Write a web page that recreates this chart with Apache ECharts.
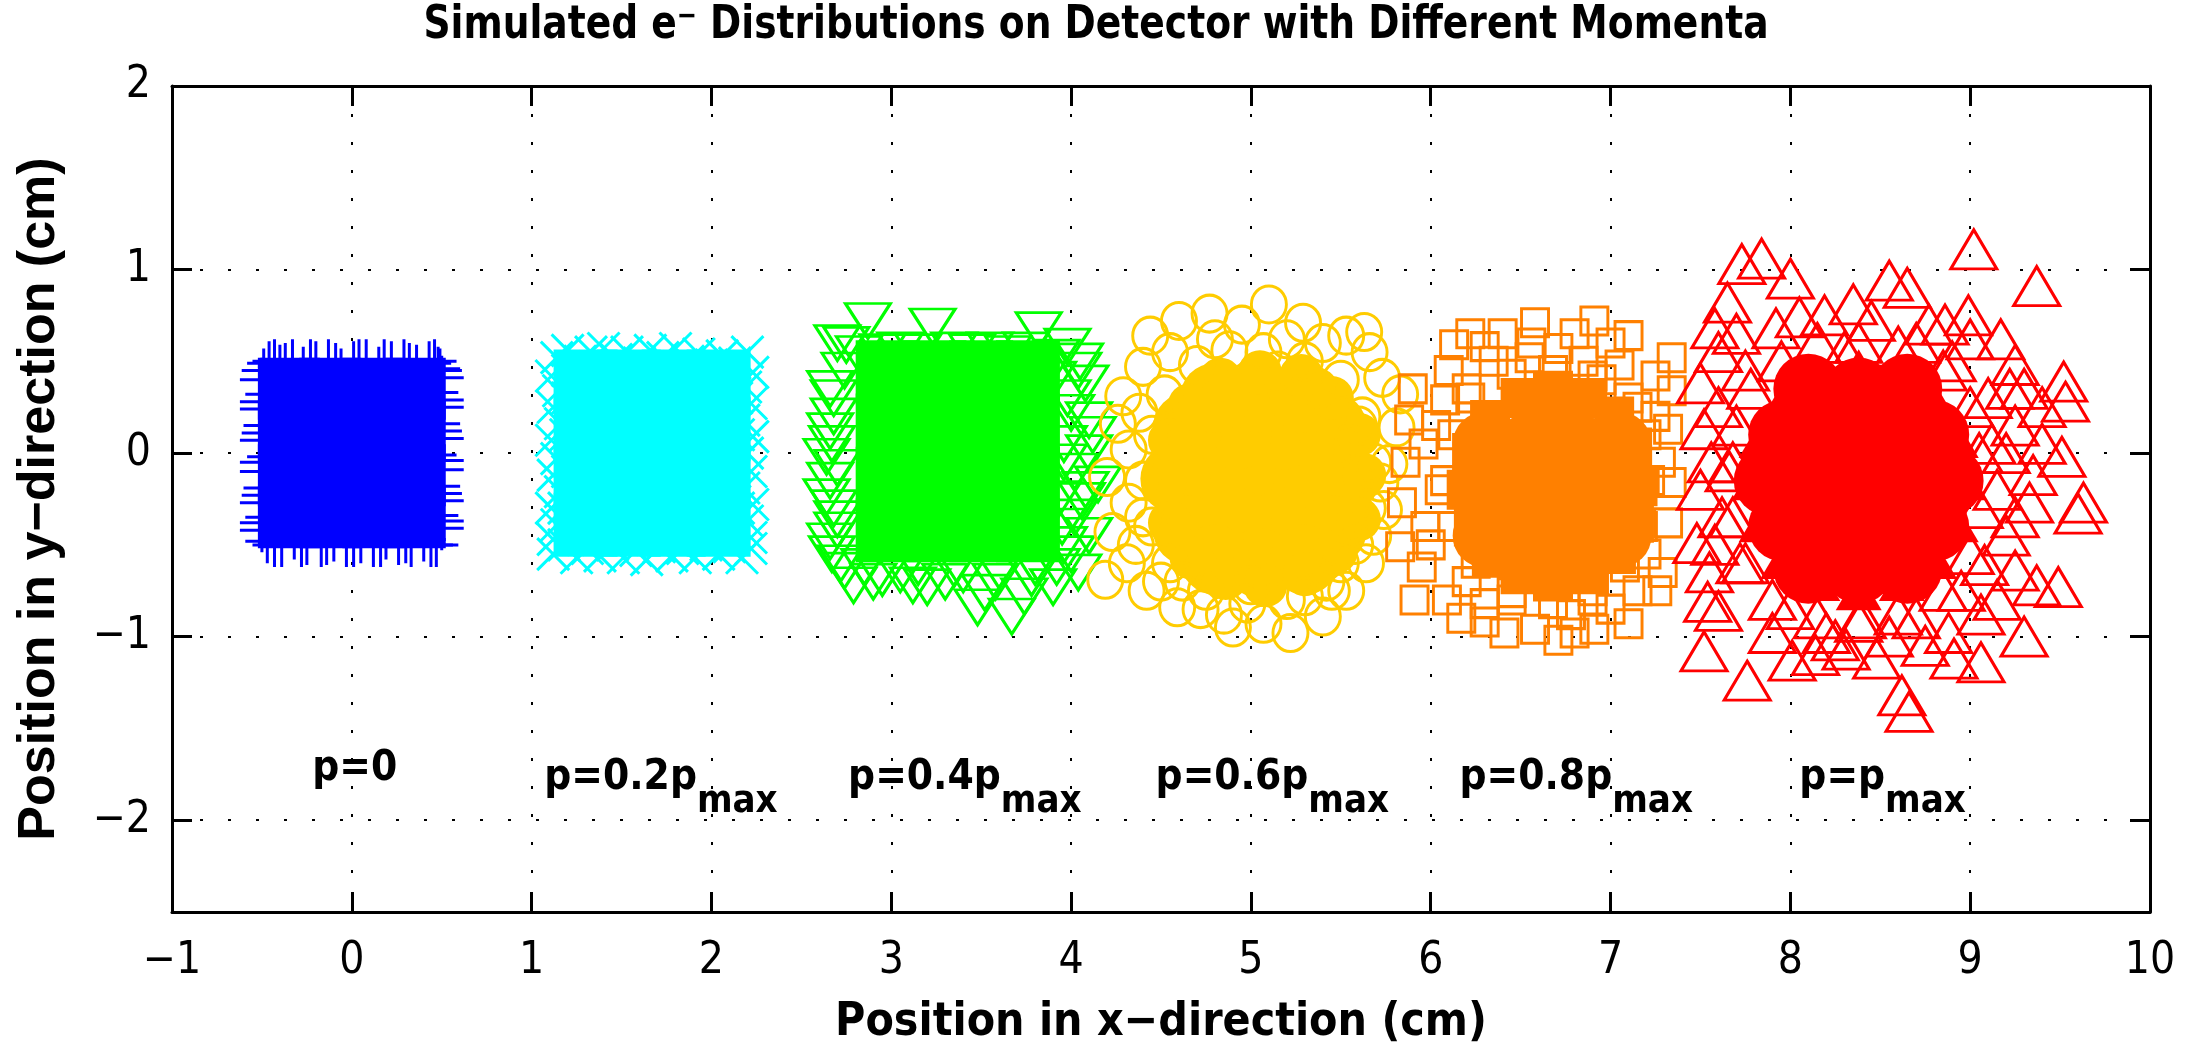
<!DOCTYPE html>
<html>
<head>
<meta charset="utf-8">
<script src="https://cdn.jsdelivr.net/npm/echarts@6/dist/echarts.min.js"></script>
<style>
  html, body { margin: 0; padding: 0; background: #fff; }
  #chart { width: 2193px; height: 1052px; }
</style>
</head>
<body>
<div id="chart"></div>
<script>
const NARROW = "'Liberation Sans Narrow', 'DejaVu Sans Condensed', sans-serif"
const WIDE = "'Liberation Sans', Arial, sans-serif"

// axis ticks
const yTicks = [-2, -1, 0, 1, 2]

// p = 0 : plus markers
const blueCore = [[-0.35,0.35],[-0.12,0.35],[0.12,0.35],[0.35,0.35],[-0.35,0.12],[-0.12,0.12],[0.12,0.12],[0.35,0.12],
  [-0.35,-0.12],[-0.12,-0.12],[0.12,-0.12],[0.35,-0.12],[-0.35,-0.35],[-0.12,-0.35],[0.12,-0.35],[0.35,-0.35]]
const blueEdge = [[-0.46,0.49],[-0.4,0.47],[-0.33,0.5],[-0.27,0.46],[-0.2,0.49],[-0.13,0.5],[-0.06,0.45],[0.01,0.49],
  [0.08,0.5],[0.15,0.46],[0.22,0.49],[0.29,0.5],[0.36,0.47],[0.43,0.49],[0.48,0.46],
  [-0.43,0.5],[-0.37,0.48],[-0.23,0.5],[-0.09,0.48],[0.04,0.5],[0.18,0.5],[0.32,0.48],[0.46,0.5],
  [-0.47,-0.48],[-0.39,-0.5],[-0.32,-0.46],[-0.25,-0.49],[-0.17,-0.5],[-0.1,-0.47],[-0.03,-0.5],[0.05,-0.48],
  [0.12,-0.5],[0.19,-0.46],[0.26,-0.49],[0.33,-0.5],[0.4,-0.47],[0.47,-0.5],
  [-0.43,-0.5],[-0.28,-0.5],[-0.14,-0.49],[0.01,-0.5],[0.16,-0.5],[0.3,-0.48],[0.44,-0.5],
  [-0.5,0.4],[-0.47,0.32],[-0.5,0.24],[-0.48,0.15],[-0.5,0.07],[-0.46,-0.02],[-0.5,-0.1],[-0.48,-0.19],[-0.5,-0.27],[-0.47,-0.35],[-0.5,-0.42],
  [-0.49,0.45],[-0.5,0.28],[-0.49,0.11],[-0.5,-0.05],[-0.49,-0.23],[-0.5,-0.38],
  [0.5,0.41],[0.47,0.33],[0.5,0.25],[0.48,0.16],[0.5,0.08],[0.46,-0.01],[0.5,-0.09],[0.48,-0.18],[0.5,-0.26],[0.47,-0.34],[0.5,-0.41],
  [0.49,0.45],[0.5,0.29],[0.49,0.12],[0.5,-0.04],[0.49,-0.22],[0.5,-0.37]]

// p = 0.2 pmax : x markers
const cyanCore = [[1.3,0.39],[1.54,0.39],[1.79,0.39],[2.04,0.39],[1.3,0.13],[1.54,0.13],[1.79,0.13],[2.04,0.13],
  [1.3,-0.13],[1.54,-0.13],[1.79,-0.13],[2.04,-0.13],[1.3,-0.39],[1.54,-0.39],[1.79,-0.39],[2.04,-0.39]]
const cyanEdge = [[1.14,0.52],[1.2,0.56],[1.27,0.5],[1.33,0.55],[1.4,0.57],[1.47,0.51],[1.53,0.55],[1.6,0.49],[1.66,0.56],
  [1.73,0.52],[1.8,0.57],[1.87,0.5],[1.93,0.54],[2.0,0.48],[2.06,0.53],[2.13,0.49],[2.2,0.55],
  [1.12,-0.55],[1.18,-0.5],[1.25,-0.57],[1.31,-0.52],[1.38,-0.56],[1.45,-0.5],[1.51,-0.57],[1.58,-0.53],[1.64,-0.58],
  [1.71,-0.51],[1.78,-0.56],[1.84,-0.52],[1.91,-0.57],[1.97,-0.5],[2.04,-0.55],[2.1,-0.51],[2.17,-0.57],[2.22,-0.52],
  [1.11,0.42],[1.15,0.34],[1.12,0.25],[1.16,0.16],[1.11,0.07],[1.14,-0.03],[1.12,-0.12],[1.16,-0.21],[1.11,-0.3],[1.14,-0.39],[1.12,-0.47],
  [2.23,0.44],[2.19,0.36],[2.22,0.27],[2.18,0.18],[2.23,0.09],[2.2,0.0],[2.22,-0.1],[2.18,-0.19],[2.23,-0.28],[2.2,-0.37],[2.22,-0.46],
  [1.2,0.45],[1.35,0.47],[1.5,0.44],[1.65,0.47],[1.8,0.45],[1.95,0.46],[2.1,0.43],
  [1.22,-0.46],[1.37,-0.47],[1.52,-0.44],[1.67,-0.47],[1.82,-0.45],[1.97,-0.46],[2.12,-0.44],
  [1.2,0.3],[1.19,0.1],[1.2,-0.1],[1.18,-0.3],[2.14,0.3],[2.15,0.1],[2.13,-0.1],[2.15,-0.3]]

// p = 0.4 pmax : down triangles
const greenCore = [[2.98,0.44],[3.24,0.44],[3.5,0.44],[3.76,0.44],[2.98,0.15],[3.24,0.15],[3.5,0.15],[3.76,0.15],
  [2.98,-0.14],[3.24,-0.14],[3.5,-0.14],[3.76,-0.14],[2.98,-0.42],[3.24,-0.42],[3.5,-0.42],[3.76,-0.42]]
const greenEdge = [[2.87,0.72],[3.23,0.69],[3.82,0.67],[2.75,0.59],[4.05,0.5],[2.95,0.55],[3.05,0.56],[3.15,0.55],
  [3.35,0.56],[3.45,0.55],[3.55,0.56],[3.65,0.54],[3.75,0.56],[2.82,0.54],[3.92,0.52],
  [2.67,0.05],[2.66,0.35],[2.68,0.2],[2.64,-0.02],[2.66,-0.15],[2.68,-0.3],[2.7,-0.42],[2.74,0.45],[2.67,-0.55],[2.74,-0.64],
  [2.79,-0.72],[3.48,-0.84],[3.67,-0.89],[3.12,-0.72],[3.2,-0.73],[3.9,-0.73],[2.95,-0.68],[3.3,-0.7],[3.58,-0.7],
  [3.78,-0.68],[3.05,-0.66],[3.4,-0.66],[2.85,-0.62],
  [4.04,0.45],[4.1,0.18],[4.1,0.0],[4.06,-0.26],[4.0,-0.55],[4.15,-0.17],[3.98,0.3],[3.95,-0.4],[4.02,-0.1],[3.96,0.05],[3.92,-0.62],
  [2.7,0.6],[2.68,0.3],[2.66,0.12],[2.7,-0.08],[2.64,-0.24],[2.7,-0.36],[2.66,-0.48],[2.72,-0.6],
  [3.98,0.58],[4.08,0.38],[4.0,0.22],[4.12,0.1],[3.96,-0.05],[4.08,-0.2],[4.02,-0.35],[4.1,-0.45],[3.96,-0.5],
  [4.04,-0.65],[3.9,0.4],[3.93,-0.25],
  [2.9,-0.7],[3.15,-0.62],[3.35,-0.63],[3.6,-0.64],[3.8,-0.62],[3.52,-0.76],[3.74,-0.78]]

// p = 0.6 pmax : circles
const yellowCore = [[5.05,-0.14],[5.32,-0.14],[4.78,-0.14],[5.18,0.1],[4.92,0.1],[5.18,-0.38],[4.92,-0.38],
  [5.52,-0.14],[4.58,-0.14],[5.45,0.14],[4.65,0.14],[5.45,-0.42],[4.65,-0.42],[5.05,0.3],[5.05,-0.6],
  [5.3,0.3],[4.8,0.3],[5.3,-0.58],[4.8,-0.58]]
const yellowRim = [[5.63,-0.12],[5.6,0.1],[5.45,0.3],[5.28,0.42],[5.05,0.44],[4.83,0.4],[4.66,0.26],[4.55,0.07],
  [4.52,-0.16],[4.55,-0.38],[4.67,-0.57],[4.86,-0.68],[5.08,-0.72],[5.3,-0.66],[5.47,-0.54],[5.6,-0.36]]
const yellowEdge = [[4.77,0.76],[5.1,0.81],[5.29,0.71],[4.6,0.72],[4.44,0.64],[5.53,0.64],[5.63,0.66],[5.83,0.32],
  [5.73,0.41],[5.66,0.55],[4.95,0.7],[4.4,0.47],[5.2,0.62],[5.4,0.6],[4.55,0.55],
  [4.26,0.16],[4.2,-0.13],[4.23,-0.43],[4.19,-0.69],[4.31,-0.6],[4.29,0.31],[4.32,0.02],[4.32,-0.27],[4.4,-0.35],
  [4.42,-0.75],[4.59,-0.84],[4.72,-0.85],[4.9,-0.95],[5.07,-0.93],[5.22,-0.98],[5.4,-0.89],[5.53,-0.75],[5.64,-0.6],
  [4.5,-0.7],[4.85,-0.88],[5.45,-0.75],
  [5.74,-0.31],[5.77,-0.06],[5.81,0.14],[5.72,-0.16],[5.6,0.15],[5.68,-0.45],
  [5.07,0.55],[5.3,0.5],[5.5,0.4],[5.62,0.2],[5.68,-0.05],[5.65,-0.3],[5.58,-0.5],[5.42,-0.7],[5.2,-0.8],
  [4.98,-0.82],[4.75,-0.75],[4.55,-0.6],[4.45,-0.4],[4.4,-0.15],[4.45,0.1],[4.52,0.32],[4.7,0.48],[4.88,0.56],
  [5.15,0.45],[5.38,0.35],[5.55,0.05],[5.5,-0.6],[4.62,-0.7],[4.38,0.22],[4.36,-0.5],[5.0,-0.72],[4.8,0.62],[5.3,-0.78]]

// p = 0.8 pmax : squares
const orangeCore = [[6.68,-0.2],[6.95,-0.2],[6.41,-0.2],[6.82,0.04],[6.54,0.04],[6.82,-0.44],[6.54,-0.44],
  [6.68,0.2],[6.68,-0.6],[7.05,0.05],[6.3,0.05],[7.05,-0.45],[6.3,-0.45]]
const orangeRim = [[7.15,-0.18],[7.12,0.03],[7.02,0.2],[6.87,0.3],[6.68,0.34],[6.5,0.3],[6.33,0.18],[6.23,0.0],
  [6.2,-0.2],[6.24,-0.4],[6.34,-0.57],[6.5,-0.66],[6.68,-0.7],[6.88,-0.66],[7.03,-0.55],[7.13,-0.38]]
const orangeEdge = [[6.58,0.71],[6.91,0.72],[7.1,0.64],[6.22,0.65],[6.4,0.65],[6.8,0.65],[6.13,0.59],[6.1,0.45],
  [7.34,0.52],[6.56,0.6],[6.71,0.57],[6.3,0.58],[7.0,0.6],
  [5.88,0.18],[5.86,-0.05],[5.84,-0.27],[5.83,-0.51],[5.91,-0.8],[5.97,-0.4],[5.96,0.05],[6.08,0.29],[5.9,0.35],[5.95,-0.62],
  [6.17,-0.9],[6.41,-0.98],[6.71,-1.02],[6.91,-0.96],[7.1,-0.93],[6.09,-0.8],[6.58,-0.96],[6.3,-0.92],[6.8,-0.98],[7.0,-0.85],
  [7.29,-0.65],[7.32,-0.38],[7.34,-0.16],[7.32,0.13],[7.34,0.34],[7.26,-0.75],[7.25,0.42],[7.28,-0.05],
  [6.2,0.35],[6.95,0.4],[7.15,0.25],[6.05,-0.2],[7.2,-0.55],[6.2,-0.7],[6.45,-0.8],[6.9,-0.8],[6.35,0.5],[6.85,0.5],
  [6.68,0.45],[6.9,0.42],[7.1,0.3],[7.2,0.1],[7.22,-0.15],[7.18,-0.4],[7.08,-0.62],[6.9,-0.75],[6.68,-0.82],
  [6.45,-0.76],[6.25,-0.6],[6.12,-0.4],[6.08,-0.15],[6.12,0.1],[6.22,0.3],[6.45,0.43],[6.03,0.15],[6.0,-0.5],
  [7.15,-0.75],[6.55,0.52],[7.05,0.48],[6.3,-0.82],[6.78,-0.88],[7.25,0.2]]

// p = pmax : up triangles
const redCore = [[8.38,-0.15],[8.66,-0.15],[8.1,-0.15],[8.52,0.1],[8.24,0.1],[8.52,-0.4],[8.24,-0.4],[8.38,0.33],
  [8.38,-0.63],[8.8,0.1],[7.96,0.1],[8.8,-0.4],[7.96,-0.4],[8.88,-0.15],[7.88,-0.15],[8.65,0.35],[8.1,0.35],
  [8.65,-0.63],[8.1,-0.63]]
const redRim = [[8.96,-0.15],[8.92,0.08],[8.8,0.28],[8.62,0.42],[8.38,0.46],[8.15,0.42],[7.96,0.28],[7.84,0.08],
  [7.8,-0.15],[7.84,-0.38],[7.96,-0.58],[8.15,-0.7],[8.38,-0.75],[8.62,-0.7],[8.8,-0.58],[8.92,-0.38]]
const redEdge = [[9.02,1.11],[9.37,0.91],[7.73,1.03],[7.84,1.06],[8.0,0.95],[7.65,0.82],[8.55,0.94],[8.65,0.9],
  [8.35,0.81],[8.99,0.75],[9.17,0.62],[8.19,0.75],[8.05,0.74],[8.86,0.7],[8.77,0.7],[8.45,0.72],[7.92,0.68],
  [9.52,0.39],[9.53,0.28],[9.4,0.25],[9.3,0.35],[9.25,0.48],[9.51,-0.02],[9.63,-0.27],[9.6,-0.33],[9.33,-0.27],
  [9.4,0.05],[9.25,0.15],[9.35,-0.12],[9.2,-0.45],
  [9.25,-0.64],[9.49,-0.73],[9.37,-0.72],[9.3,-1.0],[9.06,-1.14],[9.06,-0.88],[9.08,-0.61],[9.15,-0.8],
  [8.62,-1.32],[8.66,-1.41],[8.91,-1.12],[8.48,-1.12],[8.31,-1.07],[8.14,-1.1],[8.01,-1.13],[7.76,-1.24],[7.52,-1.08],
  [8.75,-1.05],[8.55,-1.0],[8.2,-0.98],[7.9,-0.98],
  [7.54,-0.81],[7.6,-0.86],[7.48,-0.49],[7.5,-0.2],[7.52,0.13],[7.5,0.38],[7.58,0.68],[7.6,0.55],[7.55,-0.65],[7.62,-0.35],[7.6,0.25],
  [7.75,0.45],[8.9,0.5],[9.1,0.3],[9.15,-0.2],[7.72,-0.6],[8.0,-0.85],[8.7,-0.9],[8.95,-0.75],[8.4,-0.9],[8.3,0.55],
  [8.7,0.6],[7.68,-0.05],[9.12,0.05],
  [8.38,0.6],[8.6,0.58],[8.85,0.45],[9.0,0.25],[9.05,0.0],[9.05,-0.3],[9.0,-0.55],[8.85,-0.75],[8.6,-0.88],
  [8.38,-0.92],[8.15,-0.9],[7.9,-0.8],[7.75,-0.6],[7.68,-0.35],[7.66,-0.1],[7.7,0.15],[7.78,0.35],[7.95,0.5],
  [8.15,0.6],[9.2,0.0],[9.25,-0.35],[9.22,0.35],[7.56,-0.05],[7.58,-0.5],[7.7,0.65],[9.0,0.62],[8.25,-1.02],[8.88,-0.98]]

// annotations
const labelX = [-0.22, 1.07, 2.76, 4.47, 6.16, 8.05]
const labelY = [-1.73, -1.78, -1.78, -1.78, -1.78, -1.78]
const labelMain = ['p=0', 'p=0.2p', 'p=0.4p', 'p=0.6p', 'p=0.8p', 'p=p']
const labelSub = ['', 'max', 'max', 'max', 'max', 'max']

const PLUS = 'path://M5,0L5,10M0,5L10,5'
const CROSS = 'path://M0,0L10,10M10,0L0,10'

function cloud(data, symbol, size, color, filled, rotate) {
  return {
    type: 'scatter',
    data,
    symbol,
    symbolSize: size,
    symbolRotate: rotate || 0,
    itemStyle: filled
      ? { color, borderColor: color, borderWidth: 0, opacity: 1 }
      : { color: 'rgba(0,0,0,0)', borderColor: color, borderWidth: 3, opacity: 1 },
    silent: true,
    emphasis: { disabled: true },
  }
}

const minus = (v) => String(v).replace('-', '\u2212')

const axisLine = { show: true, onZero: false, lineStyle: { color: '#000', width: 3 } }
const tick = { show: true, inside: true, length: 20, lineStyle: { color: '#000', width: 3 } }
const grid = { show: true, lineStyle: { color: '#000', width: 2, type: [3, 25] } }

const chart = echarts.init(document.getElementById('chart'))
chart.setOption({
  animation: false,
  backgroundColor: '#fff',
  graphic: [{
    type: 'text',
    x: 1096,
    y: 2,
    scaleX: 0.89,
    silent: true,
    style: {
      text: '{t|Simulated e}{u|\u2212}{t| Distributions on Detector with Different Momenta}',
      align: 'center',
      verticalAlign: 'top',
      rich: {
        t: { fontFamily: NARROW, fontWeight: 'bold', fontSize: 47, lineHeight: 60, fill: '#000', verticalAlign: 'top' },
        u: { fontFamily: NARROW, fontWeight: 'bold', fontSize: 30, lineHeight: 26, padding: [0, 0, 34, 0], fill: '#000', verticalAlign: 'top' },
      },
    },
  }],
  grid: { left: 172, right: 43, top: 86, bottom: 140, containLabel: false },
  xAxis: [
    {
      type: 'value', min: -1, max: 10, interval: 1, position: 'bottom',
      axisLine, axisTick: tick, splitLine: grid,
      axisLabel: { color: '#000', fontFamily: NARROW, fontSize: 44, margin: 28, formatter: minus },
      name: 'Position in x\u2212direction (cm)', nameLocation: 'middle', nameGap: 88,
      nameTextStyle: { color: '#000', fontFamily: NARROW, fontWeight: 'bold', fontSize: 46 },
    },
    {
      type: 'value', min: -1, max: 10, interval: 1, position: 'top',
      axisLine, axisTick: tick, splitLine: { show: false }, axisLabel: { show: false },
    },
  ],
  yAxis: [
    {
      type: 'value', min: -2.5, max: 2, position: 'left',
      axisLine,
      axisTick: Object.assign({ customValues: yTicks }, tick),
      splitLine: grid,
      axisLabel: { color: '#000', fontFamily: NARROW, fontSize: 44, margin: 21, formatter: minus, customValues: yTicks },
      name: 'Position in y\u2212direction (cm)', nameLocation: 'middle', nameGap: 106,
      nameTextStyle: { color: '#000', fontFamily: WIDE, fontWeight: 'bold', fontSize: 52 },
    },
    {
      type: 'value', min: -2.5, max: 2, position: 'right',
      axisLine,
      axisTick: Object.assign({ customValues: yTicks }, tick),
      splitLine: { show: false }, axisLabel: { show: false },
    },
  ],
  series: [
    cloud(blueCore, 'rect', 62, '#0000ff', true),
    cloud(blueEdge, PLUS, 44, '#0000ff', false),
    cloud(cyanCore, 'rect', 64, '#00ffff', true),
    cloud(cyanEdge, CROSS, 32, '#00ffff', false),
    cloud(greenCore, 'rect', 64, '#00ff00', true),
    cloud(greenEdge, 'triangle', [45, 35], '#00ff00', false, 180),
    cloud(yellowCore, 'circle', 70, '#ffcc00', true),
    cloud(yellowRim, 'circle', 44, '#ffcc00', true),
    cloud(yellowEdge, 'circle', [35, 37], '#ffcc00', false),
    cloud(orangeCore, 'circle', 64, '#ff8000', true),
    cloud(orangeRim, 'rect', 40, '#ff8000', true),
    cloud(orangeEdge, 'rect', [27, 28], '#ff8000', false),
    cloud(redCore, 'circle', 70, '#ff0000', true),
    cloud(redRim, 'triangle', [46, 39], '#ff0000', true),
    cloud(redEdge, 'triangle', [46, 39], '#ff0000', false),
    {
      type: 'scatter',
      symbolSize: 0,
      silent: true,
      z: 10,
      itemStyle: { opacity: 1 },
      data: labelX.map((x, i) => [x, labelY[i]]),
      label: {
        show: true,
        position: 'right',
        distance: 0,
        color: '#000',
        formatter: (p) => labelSub[p.dataIndex]
          ? '{b|' + labelMain[p.dataIndex] + '}{s|' + labelSub[p.dataIndex] + '}'
          : '{b|' + labelMain[p.dataIndex] + '}',
        rich: {
          b: { fontFamily: NARROW, fontWeight: 'bold', fontSize: 42, lineHeight: 46, color: '#000', verticalAlign: 'top' },
          s: { fontFamily: NARROW, fontWeight: 'bold', fontSize: 38, lineHeight: 40, padding: [26, 0, 0, 0], color: '#000', verticalAlign: 'top' },
        },
      },
    },
  ],
})
</script>
</body>
</html>
